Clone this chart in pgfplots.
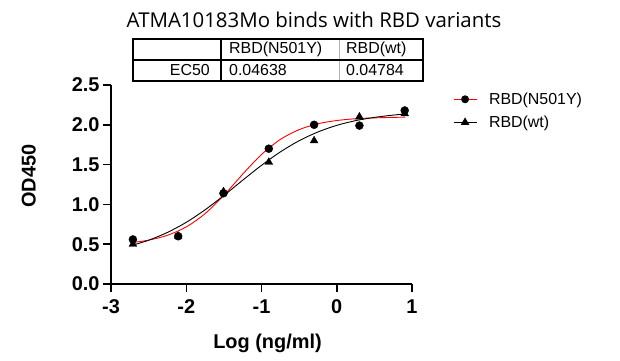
\documentclass[border=0pt]{standalone}
\usepackage{pgfplots}
\pgfplotsset{compat=1.18}
\usepackage{fontspec}
\setmainfont{Liberation Sans}
\newfontfamily\titlefont{Open Sans}
\begin{document}
\begin{tikzpicture}[x=1bp,y=1bp]
\useasboundingbox (0,0) rectangle (620,360);
\node[font=\titlefont\fontsize{20.5}{24}\selectfont] at (314,340) {ATMA10183Mo binds with RBD variants};
% table
\draw[gray!60, line width=0.8bp] (339,279) -- (339,321);
\draw[black, line width=1.2bp] (221,279) -- (221,321);
\draw[black, line width=1.2bp] (133,300) -- (423,300);
\draw[black, line width=1.8bp] (133,279) rectangle (423,321);
\node[font=\fontsize{16}{18}\selectfont, anchor=west, inner sep=0pt] at (229,310.5) {RBD(N501Y)};
\node[font=\fontsize{16}{18}\selectfont, anchor=west, inner sep=0pt] at (346,310.5) {RBD(wt)};
\node[font=\fontsize{16}{18}\selectfont, anchor=east, inner sep=0pt] at (210,289.5) {EC50};
\node[font=\fontsize{16}{18}\selectfont, anchor=west, inner sep=0pt] at (229,289.5) {0.04638};
\node[font=\fontsize{16}{18}\selectfont, anchor=west, inner sep=0pt] at (346,289.5) {0.04784};
\begin{axis}[
  at={(111bp,76bp)}, anchor=south west,
  scale only axis, width=301bp, height=199bp,
  xmin=-3, xmax=1, ymin=0, ymax=2.5,
  axis lines=left, axis line style={line width=1.8bp, -},
  xtick={-3,-2,-1,0,1}, ytick={0,0.5,1,1.5,2,2.5},
  tick style={line width=1.5bp, black}, major tick length=8bp,
  tick align=outside,
  /pgf/number format/assume math mode=true,
  yticklabel style={/pgf/number format/fixed, /pgf/number format/fixed zerofill, /pgf/number format/precision=1},
  xticklabel style={yshift=-4bp},
  ticklabel style={font=\bfseries\fontsize{20}{22}\selectfont},
  xlabel={Log (ng/ml)}, ylabel={OD450},
  label style={font=\bfseries\fontsize{20}{22}\selectfont},
  xlabel style={at={(axis description cs:0.52,-0.296)}, anchor=center},
  ylabel style={at={(axis description cs:-0.273,0.543)}, anchor=center},
  clip=false,
  legend style={at={(axis description cs:1.126,0.982)}, anchor=north west, draw=none, fill=none,
    font=\fontsize{16}{18}\selectfont, row sep=6bp, column sep=10bp},
  legend cell align=left,
  legend image code/.code={\draw[mark repeat=2,mark phase=2,#1] plot coordinates {(0bp,0bp)(11.5bp,0bp)(23bp,0bp)};},
]
% fitted curve RBD(N501Y)
\addplot[red, line width=0.9bp, smooth, forget plot] coordinates {
(-2.716,0.521) (-2.5,0.551) (-2.25,0.612) (-2.0,0.717) (-1.75,0.884) (-1.5,1.115)
(-1.334,1.29) (-1.25,1.380) (-1.0,1.627) (-0.75,1.816) (-0.5,1.939) (-0.25,2.013)
(0,2.054) (0.25,2.076) (0.5,2.087) (0.75,2.093) (0.907,2.096)};
% fitted curve RBD(wt)
\addplot[black, line width=0.9bp, smooth, forget plot] coordinates {
(-2.716,0.487) (-2.5,0.550) (-2.25,0.648) (-2.0,0.775) (-1.75,0.932) (-1.5,1.112)
(-1.25,1.304) (-1.0,1.491) (-0.75,1.659) (-0.5,1.800) (-0.25,1.910) (0,1.993)
(0.25,2.052) (0.5,2.093) (0.75,2.122) (0.907,2.135)};
% data RBD(wt)
\addplot[only marks, mark=triangle*, mark size=4.5bp, black, forget plot] coordinates {
(-2.709,0.50) (-2.107,0.60) (-1.505,1.16) (-0.903,1.53) (-0.301,1.80) (0.301,2.10) (0.903,2.14)};
% data RBD(N501Y)
\addplot[only marks, mark=*, mark size=4bp, black, forget plot] coordinates {
(-2.709,0.56) (-2.107,0.60) (-1.505,1.14) (-0.903,1.70) (-0.301,2.00) (0.301,1.99) (0.903,2.18)};
\addlegendimage{red, line width=0.9bp, mark=*, mark size=3.5bp, mark options={black}}
\addlegendentry{RBD(N501Y)}
\addlegendimage{black, line width=0.9bp, mark=triangle*, mark size=4bp, mark options={black}}
\addlegendentry{RBD(wt)}
\end{axis}
\end{tikzpicture}
\end{document}
